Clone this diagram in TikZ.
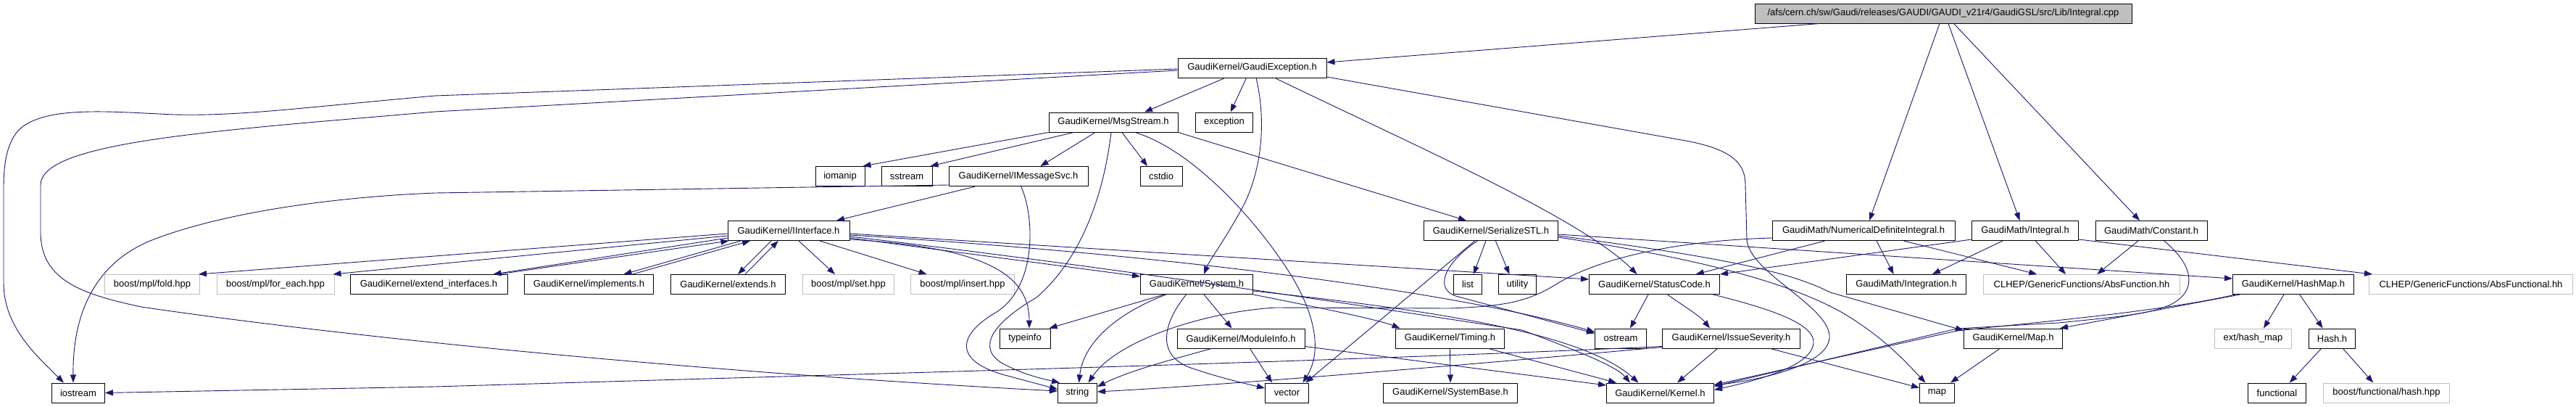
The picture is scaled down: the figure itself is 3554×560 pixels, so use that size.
\documentclass[tikz,border=0pt]{standalone}
\usepackage{fontspec}
\setmainfont{Liberation Sans}
\usetikzlibrary{arrows.meta}
\definecolor{edgec}{HTML}{191970}
\definecolor{grayb}{HTML}{BFBFBF}
\begin{document}
\begin{tikzpicture}[x=1pt,y=-1pt,
  nd/.style={draw=black, line width=1pt, fill=white, minimum height=27pt, inner sep=0pt,
             font=\fontsize{13}{15}\selectfont, anchor=center},
  ext/.style={nd, draw=grayb},
  rootnd/.style={nd, fill=grayb},
  e/.style={draw=edgec, line width=0.9pt, -{Triangle[length=11pt,width=8pt]}},
]
\fill[white] (0,0) rectangle (3554,560);
\useasboundingbox (0,0) rectangle (3554,560);

% ---------- nodes ----------
\node[rootnd, minimum width=520pt] (root) at (2681,18.5) {/afs/cern.ch/sw/Gaudi/releases/GAUDI/GAUDI\_v21r4/GaudiGSL/src/Lib/Integral.cpp};
\node[nd, minimum width=205pt] (GEx) at (1727.5,93.5) {GaudiKernel/GaudiException.h};
\node[nd, minimum width=178pt] (MsgS) at (1536,168.5) {GaudiKernel/MsgStream.h};
\node[nd, minimum width=79pt] (exc) at (1689,168.5) {exception};
\node[nd, minimum width=68pt] (iomanip) at (1159,243) {iomanip};
\node[nd, minimum width=70pt] (sstream) at (1251,243) {sstream};
\node[nd, minimum width=192pt] (IMS) at (1405,243) {GaudiKernel/IMessageSvc.h};
\node[nd, minimum width=58pt] (cstdio) at (1602,243) {cstdio};
\node[nd, minimum width=168pt] (IInt) at (1088,318) {GaudiKernel/IInterface.h};
\node[nd, minimum width=185pt] (SSTL) at (2057,318) {GaudiKernel/SerializeSTL.h};
\node[nd, minimum width=252pt] (NDI) at (2571,318) {GaudiMath/NumericalDefiniteIntegral.h};
\node[nd, minimum width=147pt] (GMInt) at (2794,318) {GaudiMath/Integral.h};
\node[nd, minimum width=154pt] (Const) at (2968,318) {GaudiMath/Constant.h};
\node[ext, minimum width=131pt] (fold) at (210,392) {boost/mpl/fold.hpp};
\node[ext, minimum width=162pt] (foreach) at (380,392) {boost/mpl/for\_each.hpp};
\node[nd, minimum width=217pt] (extif) at (591.5,392) {GaudiKernel/extend\_interfaces.h};
\node[nd, minimum width=178pt] (impl) at (812.5,392) {GaudiKernel/implements.h};
\node[nd, minimum width=158pt] (extends) at (1004.5,392) {GaudiKernel/extends.h};
\node[ext, minimum width=126pt] (set) at (1170.5,392) {boost/mpl/set.hpp};
\node[ext, minimum width=143pt] (insert) at (1328,392) {boost/mpl/insert.hpp};
\node[nd, minimum width=155pt] (System) at (1651,392) {GaudiKernel/System.h};
\node[nd, minimum width=39pt] (list) at (2025,392) {list};
\node[nd, minimum width=52pt] (utility) at (2093.5,392) {utility};
\node[nd, minimum width=180pt] (SC) at (2282.5,392) {GaudiKernel/StatusCode.h};
\node[nd, minimum width=165pt] (Integ) at (2630,392) {GaudiMath/Integration.h};
\node[ext, minimum width=271pt] (AbsF) at (2872,392) {CLHEP/GenericFunctions/AbsFunction.hh};
\node[nd, minimum width=167pt] (HashMap) at (3164,392) {GaudiKernel/HashMap.h};
\node[ext, minimum width=281pt] (AbsFl) at (3409,392) {CLHEP/GenericFunctions/AbsFunctional.hh};
\node[nd, minimum width=70pt] (typeinfo) at (1414,466.5) {typeinfo};
\node[nd, minimum width=176pt] (ModInfo) at (1712,466.5) {GaudiKernel/ModuleInfo.h};
\node[nd, minimum width=150pt] (Timing) at (2000.5,466.5) {GaudiKernel/Timing.h};
\node[nd, minimum width=71pt] (ostream) at (2236,466.5) {ostream};
\node[nd, minimum width=190pt] (IssSev) at (2388.5,466.5) {GaudiKernel/IssueSeverity.h};
\node[nd, minimum width=136pt] (MapH) at (2777.5,466.5) {GaudiKernel/Map.h};
\node[ext, minimum width=106pt] (exthm) at (3108.5,466.5) {ext/hash\_map};
\node[nd, minimum width=64pt] (Hash) at (3217.5,466.5) {Hash.h};
\node[nd, minimum width=73pt] (iostream) at (108,541.5) {iostream};
\node[nd, minimum width=54pt] (string) at (1486.5,541.5) {string};
\node[nd, minimum width=60pt] (vector) at (1775.5,541.5) {vector};
\node[nd, minimum width=185pt] (SysBase) at (2001,541.5) {GaudiKernel/SystemBase.h};
\node[nd, minimum width=148pt] (Kernel) at (2290.5,541.5) {GaudiKernel/Kernel.h};
\node[nd, minimum width=48pt] (map) at (2672.5,541.5) {map};
\node[nd, minimum width=80pt] (functional) at (3141.5,541.5) {functional};
\node[ext, minimum width=174pt] (hashhpp) at (3292.5,541.5) {boost/functional/hash.hpp};

% ---------- edges ----------
% root
\draw[e] ([xshift=-171pt]root.south) -- ([yshift=7.5pt]GEx.east);
\draw[e] ([xshift=-5pt]root.south) -- ([xshift=8pt]NDI.north);
\draw[e] ([xshift=7pt]root.south) -- ([xshift=-7.5pt]GMInt.north);
\draw[e] ([xshift=14.6pt]root.south) -- ([xshift=-16pt]Const.north);
% GaudiException
\draw[e] ([yshift=-1.5pt]GEx.west) -- (600,132) .. controls (400,150) and (330,160) .. (240,158)
  .. controls (150,154) and (60,145) .. (25,180) .. controls (8,200) and (5,230) .. (5,260) -- (5,390)
  .. controls (5,450) and (50,490) .. ([xshift=-20pt]iostream.north);
\draw[e] ([yshift=-3.5pt]GEx.west) -- (600,154) .. controls (300,180) and (56,195) .. (56,255) -- (56,320)
  .. controls (56,385) and (110,405) .. (195,423) .. controls (500,468) and (1000,515) .. ([yshift=2.5pt]string.west);
\draw[e] ([xshift=-37.5pt]GEx.south) -- ([xshift=43pt]MsgS.north);
\draw[e] ([xshift=-8pt]GEx.south) -- ([xshift=8.7pt]exc.north);
\draw[e] ([xshift=5.5pt]GEx.south) .. controls (1748,170) and (1740,240) .. (1712,290)
  .. controls (1690,330) and (1668,360) .. ([xshift=10pt]System.north);
\draw[e] ([xshift=31.5pt]GEx.south) .. controls (1950,200) and (2180,300) .. ([xshift=-24pt]SC.north);
\draw[e] ([yshift=-12.5pt]GEx.east) -- (2320,193) .. controls (2390,205) and (2408,225) .. (2408,255) -- (2410,330)
  .. controls (2413,375) and (2520,420) .. (2524,462) .. controls (2527,500) and (2440,522) .. ([yshift=10.5pt]Kernel.east);
% MsgStream
\draw[e] (MsgS.south west) -- ([xshift=-3pt]iomanip.north east);
\draw[e] ([xshift=-54.5pt]MsgS.south) -- ([xshift=-3pt]sstream.north east);
\draw[e] ([xshift=-25pt]MsgS.south) -- ([xshift=30.5pt]IMS.north);
\draw[e] ([xshift=-3pt]MsgS.south) .. controls (1525,250) and (1500,350) .. (1430,410)
  .. controls (1370,445) and (1345,480) .. (1385,502) .. controls (1405,512) and (1420,518) .. ([xshift=3pt]string.north west);
\draw[e] ([xshift=12pt]MsgS.south) -- ([xshift=-19pt]cstdio.north);
\draw[e] ([xshift=30pt]MsgS.south) .. controls (1640,205) and (1720,290) .. (1765,355)
  .. controls (1805,410) and (1830,475) .. ([xshift=22pt]vector.north);
\draw[e] (MsgS.south east) -- ([xshift=-34pt]SSTL.north);
% IMessageSvc
\draw[e] ([yshift=-12pt]IMS.west) -- (600,266) .. controls (450,272) and (300,295) .. (207,332)
  .. controls (140,360) and (100,420) .. ([xshift=-7pt]iostream.north);
\draw[e] ([xshift=-59.4pt]IMS.south) -- ([xshift=66pt]IInt.north);
\draw[e] ([xshift=3.7pt]IMS.south) .. controls (1428,300) and (1430,395) .. (1375,430)
  .. controls (1315,465) and (1320,500) .. (1390,518) -- ([yshift=5pt]string.west);
% IInterface
\draw[e] ([yshift=-4pt]IInt.west) -- ([xshift=-2pt]fold.north east);
\draw[e] ([yshift=-7pt]IInt.west) -- ([xshift=-2pt]foreach.north east);
\draw[e] ([yshift=-10pt]IInt.west) -- ([xshift=-20pt]extif.north east);
\draw[e] ([xshift=-13pt]extif.north east) -- ([xshift=2pt]IInt.south west);
\draw[e] ([xshift=-66pt]IInt.south) -- ([xshift=48pt]impl.north);
\draw[e] ([xshift=60pt]impl.north) -- ([xshift=-53pt]IInt.south);
\draw[e] ([xshift=-24pt]IInt.south) -- ([xshift=13.5pt]extends.north);
\draw[e] ([xshift=23.5pt]extends.north) -- ([xshift=-14.3pt]IInt.south);
\draw[e] ([xshift=14pt]IInt.south) -- ([xshift=-18.5pt]set.north);
\draw[e] ([xshift=43pt]IInt.south) -- ([xshift=-49.4pt]insert.north);
\draw[e] ([yshift=-10pt]IInt.east) -- ([yshift=-3pt]System.north west);
\draw[e] ([yshift=-12pt]IInt.east) .. controls (1340,340) and (1420,370) .. ([xshift=6pt]typeinfo.north);
\draw[e] ([yshift=-4pt]IInt.east) -- ([yshift=7pt]SC.west);
\draw[e] ([yshift=-6pt]IInt.east) .. controls (1600,350) and (2000,400) .. ([yshift=9pt]ostream.west);
\draw[e] ([yshift=-8pt]IInt.east) .. controls (1550,370) and (1900,425) .. (2100,455)
  .. controls (2180,485) and (2230,505) .. ([xshift=-41.5pt]Kernel.north);
% System
\draw[e] ([xshift=-45pt]System.south) -- ([xshift=-2pt]typeinfo.north east);
\draw[e] ([xshift=-42pt]System.south) .. controls (1545,430) and (1495,470) .. ([xshift=2pt]string.north);
\draw[e] ([xshift=-14.5pt]System.south) .. controls (1605,445) and (1595,488) .. (1640,506)
  .. controls (1680,520) and (1715,528) .. ([yshift=6.5pt]vector.west);
\draw[e] ([xshift=10pt]System.south) -- ([xshift=-12.4pt]ModInfo.north);
\draw[e] (System.south east) .. controls (1800,420) and (1900,440) .. ([xshift=-69pt]Timing.north);
\draw[e] ([yshift=-9pt]System.east) .. controls (1950,425) and (2180,455) .. ([xshift=-30pt]Kernel.north);
% ModuleInfo
\draw[e] ([xshift=-41pt]ModInfo.south) .. controls (1620,495) and (1560,510) .. ([yshift=8.5pt]string.east);
\draw[e] ([xshift=12.5pt]ModInfo.south) -- ([xshift=-20.5pt]vector.north);
\draw[e] ([yshift=-11pt]ModInfo.east) -- ([yshift=10.5pt]Kernel.west);
% Timing
\draw[e] (Timing.south) -- (SysBase.north);
\draw[e] ([xshift=53pt]Timing.south) -- ([xshift=-60.5pt]Kernel.north);
% StatusCode
\draw[e] ([xshift=-8.5pt]SC.south) -- ([xshift=13pt]ostream.north);
\draw[e] ([xshift=18pt]SC.south) .. controls (2320,420) and (2345,435) .. ([xshift=-29.5pt]IssSev.north);
\draw[e] ([xshift=81pt]SC.south) .. controls (2440,425) and (2500,445) .. (2502,470)
  .. controls (2504,505) and (2420,525) .. ([yshift=4pt]Kernel.east);
% IssueSeverity
\draw[e] ([yshift=-11pt]IssSev.west) .. controls (1800,500) and (1200,515) .. (600,533) -- (iostream.east);
\draw[e] ([yshift=-12pt]IssSev.west) .. controls (2000,505) and (1700,530) .. ([yshift=1.5pt]string.east);
\draw[e] ([xshift=-19pt]IssSev.south) -- ([xshift=23.5pt]Kernel.north);
\draw[e] ([xshift=54pt]IssSev.south) -- ([yshift=7pt]map.west);
% SerializeSTL
\draw[e] ([xshift=-18.5pt]SSTL.south) .. controls (1995,360) and (1975,400) .. (2012,409) -- ([yshift=7pt]ostream.west);
\draw[e] ([xshift=-22.3pt]SSTL.south) -- ([xshift=25.7pt]vector.north);
\draw[e] ([xshift=-7pt]SSTL.south) -- ([xshift=7.8pt]list.north);
\draw[e] ([xshift=6.4pt]SSTL.south) -- ([xshift=-11pt]utility.north);
\draw[e] ([yshift=-5pt]SSTL.east) -- ([yshift=8pt]HashMap.west);
\draw[e] ([yshift=-7pt]SSTL.east) .. controls (2380,355) and (2470,375) .. (2525,403) -- ([yshift=-3pt]MapH.north west);
\draw[e] ([yshift=-9pt]SSTL.east) .. controls (2300,350) and (2450,380) .. (2540,430)
  .. controls (2600,465) and (2630,500) .. ([xshift=-16pt]map.north);
% NumericalDefiniteIntegral
\draw[e] ([yshift=-10pt]NDI.west) .. controls (2300,332) and (2200,360) .. (2150,390)
  .. controls (2110,415) and (2080,422) .. (2000,425) -- (1760,424)
  .. controls (1660,430) and (1540,470) .. ([xshift=15pt]string.north);
\draw[e] ([xshift=-53.3pt]NDI.south) -- ([xshift=57.3pt]SC.north);
\draw[e] ([xshift=18pt]NDI.south) -- ([xshift=-17.4pt]Integ.north);
\draw[e] ([xshift=55.4pt]NDI.south) -- ([xshift=-61.7pt]AbsF.north);
% GaudiMath/Integral
\draw[e] ([yshift=-12pt]GMInt.west) -- (SC.north east);
\draw[e] ([xshift=-31pt]GMInt.south) -- ([xshift=36pt]Integ.north);
\draw[e] ([xshift=14.3pt]GMInt.south) -- ([xshift=-22pt]AbsF.north);
\draw[e] ([yshift=-12pt]GMInt.east) -- ([xshift=5pt]AbsFl.north west);
% Constant
\draw[e] ([xshift=-18pt]Const.south) -- ([xshift=21.3pt]AbsF.north);
\draw[e] ([xshift=17.7pt]Const.south) .. controls (3020,360) and (3035,395) .. (3000,417)
  .. controls (2975,432) and (2930,436) .. (2840,445) -- (2700,453) -- ([yshift=9pt]Kernel.east);
% HashMap
\draw[e] ([xshift=10.5pt]HashMap.south west) -- ([xshift=-4pt]MapH.north east);
\draw[e] ([xshift=4pt]HashMap.south west) .. controls (2980,430) and (2800,445) .. (2700,456) -- ([yshift=11pt]Kernel.east);
\draw[e] ([xshift=-13pt]HashMap.south) -- ([xshift=14.5pt]exthm.north);
\draw[e] ([xshift=8.7pt]HashMap.south) -- ([xshift=-13pt]Hash.north);
% Hash, Map
\draw[e] ([xshift=-15pt]Hash.south) -- ([xshift=17.3pt]functional.north);
\draw[e] ([xshift=15pt]Hash.south) -- ([xshift=-18.3pt]hashhpp.north);
\draw[e] ([xshift=-18.5pt]MapH.south) -- ([xshift=-6pt]map.north east);
\end{tikzpicture}
\end{document}
